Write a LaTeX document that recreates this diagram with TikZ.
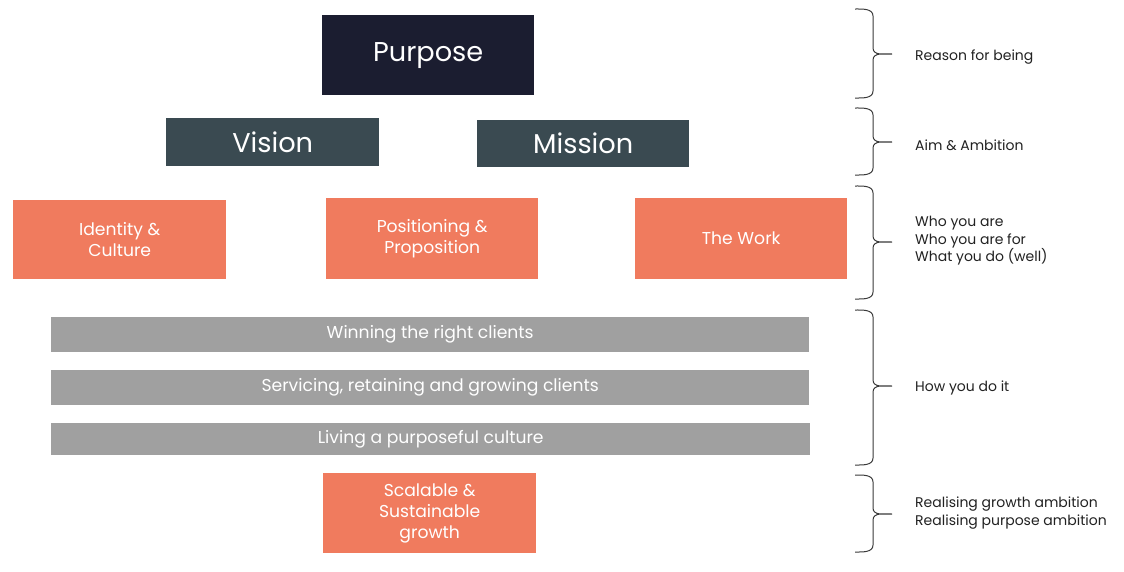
\documentclass[tikz,border=0pt]{standalone}
\usepackage{fontspec}
\setmainfont{Poppins}
\definecolor{navy}{HTML}{1B1D30}
\definecolor{slate}{HTML}{3A4A51}
\definecolor{coral}{HTML}{F07B5E}
\definecolor{bargrey}{HTML}{A0A0A0}
\definecolor{bracecol}{HTML}{3A3A3A}
\definecolor{labelcol}{HTML}{222222}
\newcommand{\mybrace}[3]{%
  \draw[bracestyle] (855,#1) to[out=0,in=90] (873,#1+7) -- (873,#2-6)
    to[out=-90,in=180] (892,#2) to[out=180,in=90] (873,#2+6) -- (873,#3-7)
    to[out=-90,in=0] (855,#3);}
\newcommand{\bardown}[1]{\raisebox{-1.5pt}{#1}}
\begin{document}
\begin{tikzpicture}[x=1pt,y=-1pt,
  box/.style={inner sep=0pt,align=center,text=white,anchor=north west},
  bigbox/.style={box,font=\fontsize{27.2}{30}\selectfont},
  midbox/.style={box,font=\fontsize{17.2}{21}\selectfont},
  bar/.style={box,fill=bargrey,font=\fontsize{17.2}{21}\selectfont},
  lab/.style={anchor=west,align=left,text=labelcol,inner sep=0pt,font=\fontsize{14}{17.6}\selectfont},
  bracestyle/.style={draw=bracecol,line width=1pt}]
\useasboundingbox (0,0) rectangle (1124,571);
\fill[white] (0,0) rectangle (1124,571);
% boxes
\node[bigbox,fill=navy,minimum width=212pt,minimum height=80pt] (purpose) at (322,15) {\raisebox{2pt}{Purpose}};
\node[bigbox,fill=slate,minimum width=213pt,minimum height=48pt] (vision) at (166,118) {Vision};
\node[bigbox,fill=slate,minimum width=212pt,minimum height=47pt] (mission) at (477,120) {Mission};
\node[midbox,fill=coral,minimum width=213pt,minimum height=79pt] (identity) at (13,200) {Identity \&\\Culture};
\node[midbox,fill=coral,minimum width=212pt,minimum height=81pt] (positioning) at (326,198) {Positioning \&\\Proposition};
\node[midbox,fill=coral,minimum width=212pt,minimum height=81pt] (work) at (635,198) {The Work};
\node[bar,minimum width=758pt,minimum height=35pt] (winning) at (51,317) {\bardown{Winning the right clients}};
\node[bar,minimum width=758pt,minimum height=35pt] (servicing) at (51,370) {\bardown{Servicing, retaining and growing clients}};
\node[bar,minimum width=759pt,minimum height=32pt] (living) at (51,423) {\bardown{Living a purposeful culture}};
\node[midbox,fill=coral,minimum width=213pt,minimum height=80pt] (growth) at (323,473) {Scalable \&\\Sustainable\\growth};
% braces
\mybrace{9}{54}{98}
\mybrace{108}{142}{175}
\mybrace{186}{242}{299}
\mybrace{310}{386}{465}
\mybrace{475}{514}{552}
% labels
\node[lab] (l1) at (915,57.5) {Reason for being};
\node[lab] (l2) at (915,145) {Aim \& Ambition};
\node[lab] (l3) at (915,241) {Who you are\\Who you are for\\What you do (well)};
\node[lab] (l4) at (915,387.5) {How you do it};
\node[lab] (l5) at (915,513) {Realising growth ambition\\Realising purpose ambition};
\end{tikzpicture}
\end{document}
